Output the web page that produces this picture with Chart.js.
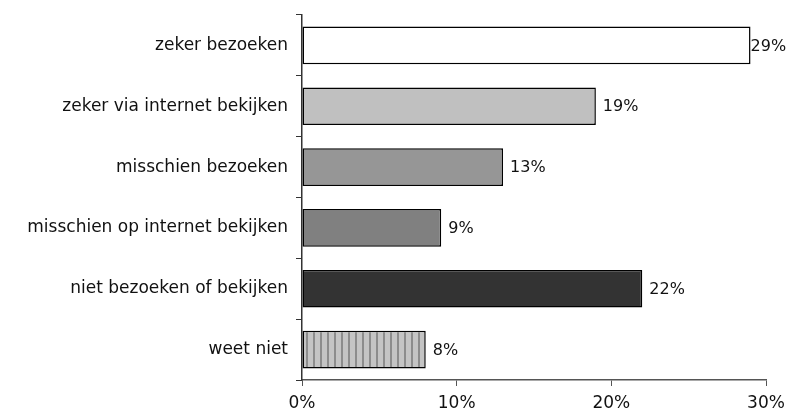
<!DOCTYPE html>
<html>
<head>
<meta charset="utf-8">
<script src="https://cdn.jsdelivr.net/npm/chart.js"></script>
<style>
  html, body { margin: 0; padding: 0; background: #fff; }
  #wrap { width: 791px; height: 419px; }
</style>
</head>
<body>
<div id="wrap"><canvas id="barChart"></canvas></div>
<script>
// categorieen en percentages
const categories = [
    'zeker bezoeken',
    'zeker via internet bekijken',
    'misschien bezoeken',
    'misschien op internet bekijken',
    'niet bezoeken of bekijken',
    'weet niet'
];
const values = [29, 19, 13, 9, 22, 8];
const xTicks = [0, 10, 20, 30];

// streepjespatroon voor 'weet niet'
function stripes() {
    const c = document.createElement('canvas');
    c.width = 7; c.height = 7;
    const g = c.getContext('2d');
    g.fillStyle = '#c4c4c4';
    g.fillRect(0, 0, 7, 7);
    g.fillStyle = '#8c8c8c';
    g.fillRect(5, 0, 2, 7);
    return g.createPattern(c, 'repeat');
}

const fills = ['#ffffff', '#c0c0c0', '#969696', '#808080', '#333333', stripes()];

// labels rechts van de balken
const valueLabels = {
    id: 'valueLabels',
    afterDatasetsDraw(chart) {
        const ctx = chart.ctx;
        const meta = chart.getDatasetMeta(0);
        ctx.save();
        ctx.fillStyle = '#111';
        ctx.font = '16px "DejaVu Sans"';
        ctx.textBaseline = 'middle';
        meta.data.forEach((bar, i) => {
            const off = values[i] >= 29 ? 0 : 7;
            ctx.fillText(values[i] + '%', bar.x + off, bar.y + 1);
        });
        ctx.restore();
    }
};

new Chart(document.getElementById('barChart'), {
    type: 'bar',
    data: {
        labels: categories,
        datasets: [{
            data: values,
            backgroundColor: fills,
            borderColor: '#000',
            borderWidth: 1.5,
            borderSkipped: false,
            categoryPercentage: 1,
            barPercentage: 0.62
        }]
    },
    options: {
        indexAxis: 'y',
        responsive: true,
        maintainAspectRatio: false,
        animation: false,
        layout: { padding: { top: 15, right: 25, left: 0, bottom: 0 } },
        plugins: { legend: { display: false }, tooltip: { enabled: false } },
        scales: {
            x: {
                min: 0, max: 30,
                afterBuildTicks(scale) { scale.ticks = xTicks.map(v => ({ value: v })); },
                afterFit(scale) { scale.height = 39; scale.paddingLeft = 0; scale.paddingRight = 0; },
                grid: { drawOnChartArea: false, tickLength: 6, color: '#555' },
                border: { color: '#555', width: 1.5 },
                ticks: {
                    color: '#111',
                    font: { family: 'DejaVu Sans', size: 17 },
                    padding: 7,
                    callback: v => v + '%'
                }
            },
            y: {
                afterFit(scale) { scale.width = 302; scale.paddingTop = 0; scale.paddingBottom = 0; },
                grid: { drawOnChartArea: false, tickLength: 6, color: '#333', offset: true },
                border: { color: '#333', width: 1.5 },
                ticks: {
                    color: '#111',
                    font: { family: 'DejaVu Sans', size: 17 },
                    padding: 8
                }
            }
        }
    },
    plugins: [valueLabels]
});
</script>
</body>
</html>
